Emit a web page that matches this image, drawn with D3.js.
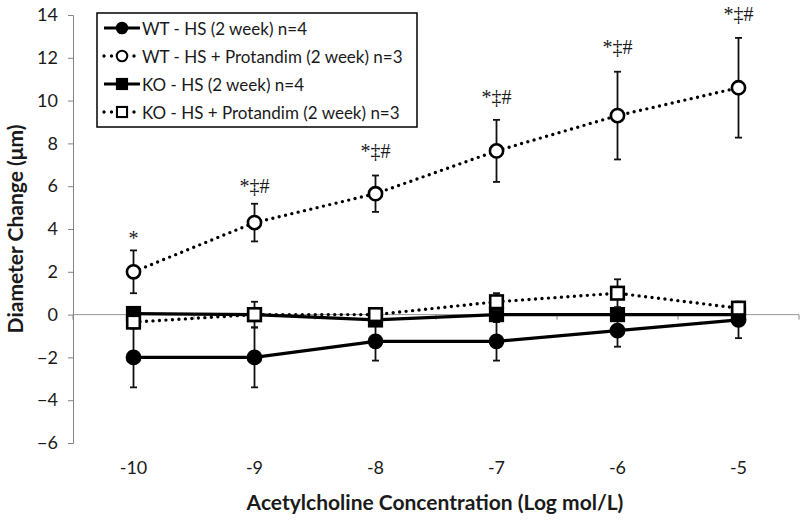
<!DOCTYPE html>
<html><head><meta charset="utf-8">
<script src="https://cdn.jsdelivr.net/npm/d3@7/dist/d3.min.js"></script>
<style>body{margin:0;background:#fff}svg{display:block}text{font-family:Lato,"Open Sans",sans-serif;fill:#1a1a1a}</style>
</head><body>
<svg id="c" width="800" height="521"></svg>
<script>
const categories = ["-10","-9","-8","-7","-6","-5"];
const yTicks = [-6,-4,-2,0,2,4,6,8,10,12,14];
const seriesNames = ["WT - HS (2 week) n=4","WT - HS + Protandim (2 week) n=3","KO - HS (2 week) n=4","KO - HS + Protandim (2 week) n=3"];
const wtHS = [-2, -2, -1.25, -1.25, -0.75, -0.25];
const wtHSErr = [1.4, 1.4, 0.9, 0.9, 0.75, 0.85];
const wtProt = [2, 4.3, 5.65, 7.65, 9.3, 10.6];
const wtProtErr = [1.0, 0.88, 0.85, 1.45, 2.05, 2.33];
const koHS = [0.05, 0, -0.25, 0, 0, 0];
const koHSErr = [0.2, 0.2, 0.2, 0.2, 0.2, 0.2];
const koProt = [-0.35, 0, 0, 0.6, 1.0, 0.3];
const koProtErr = [0.3, 0.6, 0.3, 0.4, 0.65, 0.3];
const annoLabels = ["*","*‡#","*‡#","*‡#","*‡#","*‡#"];
const annoY = [3.6, 6.0, 7.65, 10.15, 12.5, 14.05];

const svg = d3.select("#c");
const x = d3.scaleBand().domain(categories).range([73, 799]).padding(0);
const cx = c => x(c) + x.bandwidth()/2;
const y = d3.scaleLinear().domain([-6, 14]).range([443, 15]);

// y axis
const yAxis = svg.append("g").attr("transform","translate(73,0)")
  .call(d3.axisLeft(y).tickValues(yTicks).tickSize(5).tickPadding(10).tickFormat(d3.format("d")));
yAxis.select(".domain").attr("stroke","#858585").attr("stroke-width",1);
yAxis.selectAll(".tick line").attr("stroke","#858585");
yAxis.selectAll(".tick text").attr("font-size",18).style("fill","#1a1a1a").attr("font-family","Lato");

// x axis line at zero
const xg = svg.append("g").attr("transform",`translate(0,${y(0)})`);
xg.append("line").attr("x1",73).attr("x2",799).attr("stroke","#999").attr("stroke-width",1);
const bounds = categories.map(c => x(c)).concat([x.range()[1]]);
xg.selectAll("line.tk").data(bounds).join("line").attr("class","tk")
  .attr("x1",d=>d).attr("x2",d=>d).attr("y1",0).attr("y2",5).attr("stroke","#858585");
// x tick labels at bottom
svg.append("g").selectAll("text").data(categories).join("text")
  .attr("x", d=>cx(d)).attr("y", 467).attr("text-anchor","middle").attr("dominant-baseline","central")
  .attr("font-size",18).text(d=>d);

// titles
svg.append("text").attr("x",435).attr("y",501).attr("text-anchor","middle").attr("dominant-baseline","central")
  .attr("font-size",21).attr("font-weight","bold").text("Acetylcholine Concentration (Log mol/L)");
svg.append("text").attr("transform","translate(14,229) rotate(-90)").attr("text-anchor","middle").attr("dominant-baseline","central")
  .attr("font-size",21).attr("font-weight","bold").text("Diameter Change (μm)");

const series = [
  {vals: wtHS, err: wtHSErr, dotted:false, shape:"circle", fill:"#000"},
  {vals: wtProt, err: wtProtErr, dotted:true, shape:"circle", fill:"#fff"},
  {vals: koHS, err: koHSErr, dotted:false, shape:"square", fill:"#000"},
  {vals: koProt, err: koProtErr, dotted:true, shape:"square", fill:"#fff"}
];
const line = d3.line().x(d=>cx(d.c)).y(d=>y(d.v));

function drawMarker(g, shape, fill, px, py, k) {
  if (shape === "circle") {
    g.append("circle").attr("cx",px).attr("cy",py).attr("r",6.6*k).attr("fill",fill).attr("stroke","#000").attr("stroke-width",2.6*k);
  } else {
    const s = 12.6*k;
    g.append("rect").attr("x",px-s/2).attr("y",py-s/2).attr("width",s).attr("height",s).attr("fill",fill).attr("stroke","#000").attr("stroke-width",2.6*k);
  }
}

series.forEach(s => {
  const g = svg.append("g");
  const pts = categories.map((c,i)=>({c, v:s.vals[i], e:s.err[i]}));
  pts.forEach(p => {
    const eg = g.append("g").attr("stroke","#111").attr("stroke-width",1.8);
    eg.append("line").attr("x1",cx(p.c)).attr("x2",cx(p.c)).attr("y1",y(p.v-p.e)).attr("y2",y(p.v+p.e));
    [p.v-p.e, p.v+p.e].forEach(v => eg.append("line").attr("x1",cx(p.c)-3.5).attr("x2",cx(p.c)+3.5).attr("y1",y(v)).attr("y2",y(v)));
  });
  g.append("path").datum(pts).attr("d",line).attr("fill","none").attr("stroke","#000")
    .attr("stroke-width", s.dotted ? 3.4 : 3.2)
    .attr("stroke-dasharray", s.dotted ? "0 6.5" : null)
    .attr("stroke-linecap", s.dotted ? "round" : "butt");
  pts.forEach(p => drawMarker(g, s.shape, s.fill, cx(p.c), y(p.v), 1));
});

// annotations
svg.append("g").selectAll("text").data(categories).join("text")
  .attr("x", d=>cx(d)).attr("y",(d,i)=>y(annoY[i])).attr("text-anchor","middle").attr("dominant-baseline","central")
  .attr("font-size",20).style("font-family","'Liberation Serif','DejaVu Serif',serif").text((d,i)=>annoLabels[i]);

// legend
const lg = svg.append("g");
lg.append("rect").attr("x",97).attr("y",13).attr("width",320).attr("height",114).attr("fill","#fff").attr("stroke","#000").attr("stroke-width",1.5);
series.forEach((s,i) => {
  const ly = 28 + i*28;
  lg.append("line").attr("x1",104).attr("x2",140).attr("y1",ly).attr("y2",ly).attr("stroke","#000")
    .attr("stroke-width", s.dotted?3.4:3.2).attr("stroke-dasharray", s.dotted ? "0 7.5":null)
    .attr("stroke-linecap", s.dotted?"round":"butt");
  drawMarker(lg, s.shape, s.fill, 122, ly, 0.8);
  lg.append("text").attr("x",142).attr("y",ly).attr("dominant-baseline","central").attr("font-size",17).text(seriesNames[i]);
});
</script>
</body></html>
